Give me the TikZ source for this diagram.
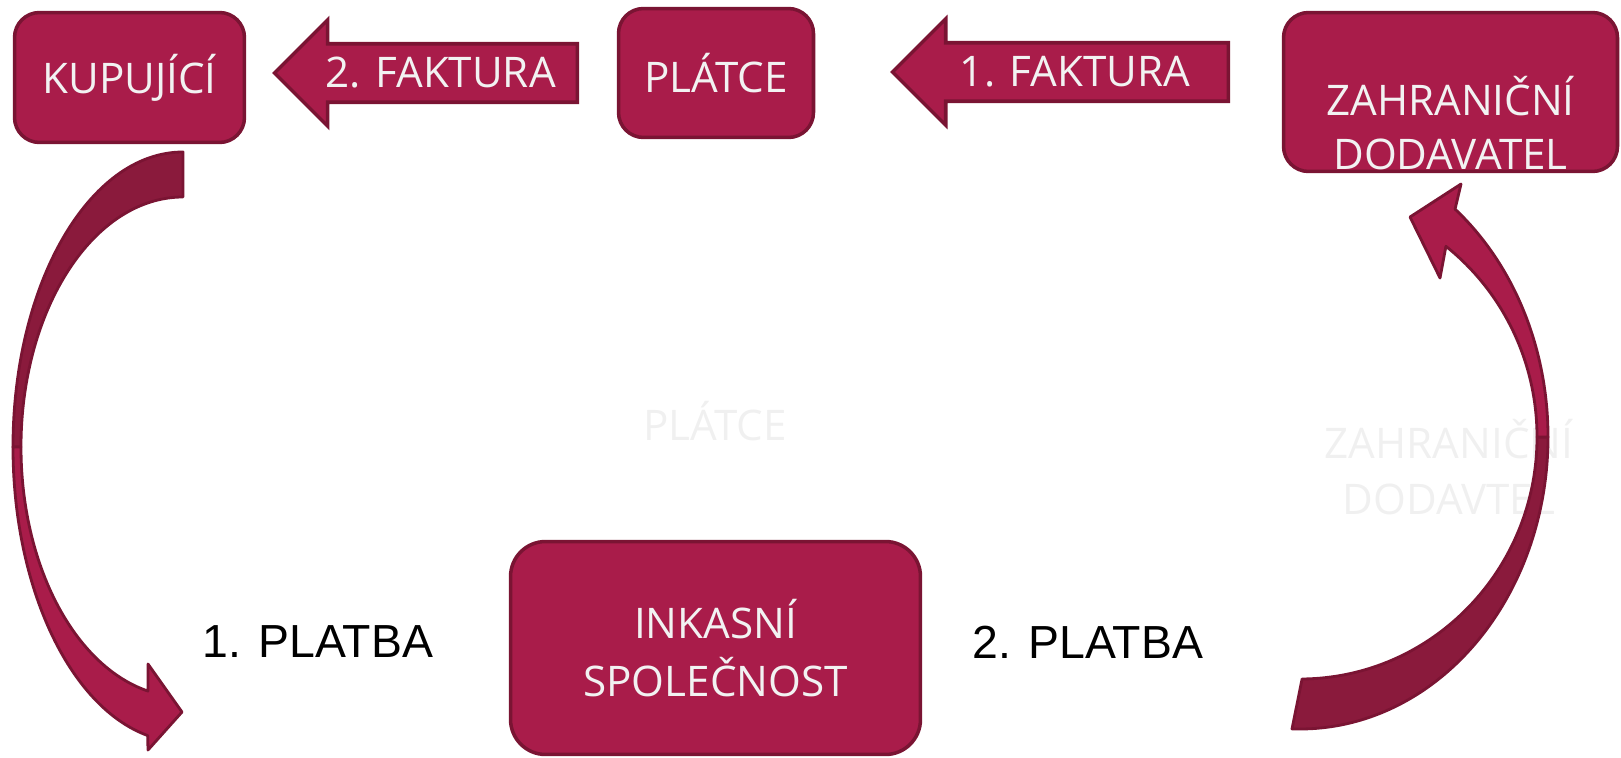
\documentclass[tikz,border=0pt]{standalone}
\usepackage{fontspec}
\setmainfont{Open Sans}
\newfontfamily\arialfont{Liberation Sans}
\usetikzlibrary{positioning,shapes.arrows,calc}
\definecolor{vinered}{HTML}{A91C4A}
\definecolor{vinedark}{HTML}{8A1A3C}
\definecolor{vineline}{HTML}{7A1433}
\definecolor{boxtext}{HTML}{F2F2F2}
\definecolor{ghost}{HTML}{F0F0F0}
\tikzset{
  party/.style={draw=vineline, fill=vinered, line width=2pt, rounded corners=0.5cm,
    text=boxtext, align=center, font=\fontsize{24}{31}\selectfont},
  invoice/.style={single arrow, shape border rotate=180, draw=vineline, fill=vinered,
    line width=2pt, text=boxtext, font=\fontsize{24}{28}\selectfont,
    single arrow head extend=0.48cm, inner ysep=0pt, text height=0.84cm, text depth=0.26cm},
  payment/.style={font=\arialfont\fontsize{26.4}{30}\selectfont},
  ghosttext/.style={text=ghost, align=center, font=\fontsize{24}{32}\selectfont},
  band/.style={draw=vineline, line width=1.6pt, line join=round}
}
\begin{document}
\begin{tikzpicture}[x=0.02cm, y=-0.02cm]
  \useasboundingbox (0,0) rectangle (1621,757);
  % faint leftovers in the background
  \node[ghosttext] (ghostplat) at (715,421) {PLÁTCE};
  \node[ghosttext] (ghostzahr) at (1449,467) {ZAHRANIČNÍ\\DODAVTEL};
  % the parties
  \node[party, minimum width=4.6cm, minimum height=2.6cm] (kup) at (129.5,77.5) {KUPUJÍCÍ};
  \node[party, minimum width=3.9cm, minimum height=2.58cm] (plat) at (716,73) {PLÁTCE};
  \node[party, minimum width=6.68cm, minimum height=3.18cm,
    label={[text=boxtext, align=center, font=\fontsize{24}{31}\selectfont, yshift=-0.62cm]center:ZAHRANIČNÍ\\DODAVATEL}] (zahr) at (1450.5,92) {};
  \node[party, minimum width=8.2cm, minimum height=4.26cm, rounded corners=0.7cm,
    font=\fontsize{24}{33}\selectfont] (ink) at (715.5,648) {INKASNÍ\\SPOLEČNOST};
  % invoices
  \node[invoice, minimum height=6.06cm, anchor=tip] (fak2) at (272,73) {2. FAKTURA};
  \node[invoice, minimum height=6.72cm, anchor=tip] (fak1) at (890,72) {1. FAKTURA};
  % payments
  \node[payment] (plat1) at (318,642) {1. PLATBA};
  \node[payment] (plat2) at (1088,642) {2. PLATBA};
  % left curved arrow
  \coordinate (lc) at (183,447);
  \draw[band, fill=vinedark] ($(lc)+(270:170 and 295)$)
    arc[start angle=270, end angle=180, x radius=170, y radius=295]
    -- ($(lc)+(180:162 and 250)$)
    arc[start angle=180, end angle=270, x radius=162, y radius=250] -- cycle;
  \draw[band, fill=vinered] ($(lc)+(180:170 and 295)$)
    arc[start angle=180, end angle=102, x radius=170, y radius=295]
    -- (148,750) -- (182,712) -- (148,664)
    -- ($(lc)+(102.5:162 and 250)$)
    arc[start angle=102.5, end angle=180, x radius=162, y radius=250] -- cycle;
  % right curved arrow
  \coordinate (rc) at (1300,437);
  \draw[band, fill=vinedark] ($(rc)+(0:248 and 292)$)
    arc[start angle=0, end angle=91.85, x radius=248, y radius=292]
    -- ($(rc)+(89.5:237 and 242)$)
    arc[start angle=89.5, end angle=0, x radius=237, y radius=242] -- cycle;
  \draw[band, fill=vinered] ($(rc)+(0:248 and 292)$)
    arc[start angle=0, end angle=-51.3, x radius=248, y radius=292]
    -- (1461,184) -- (1410,217) -- (1440,278)
    -- ($(rc)+(-52:237 and 242)$)
    arc[start angle=-52, end angle=0, x radius=237, y radius=242] -- cycle;
\end{tikzpicture}
\end{document}
